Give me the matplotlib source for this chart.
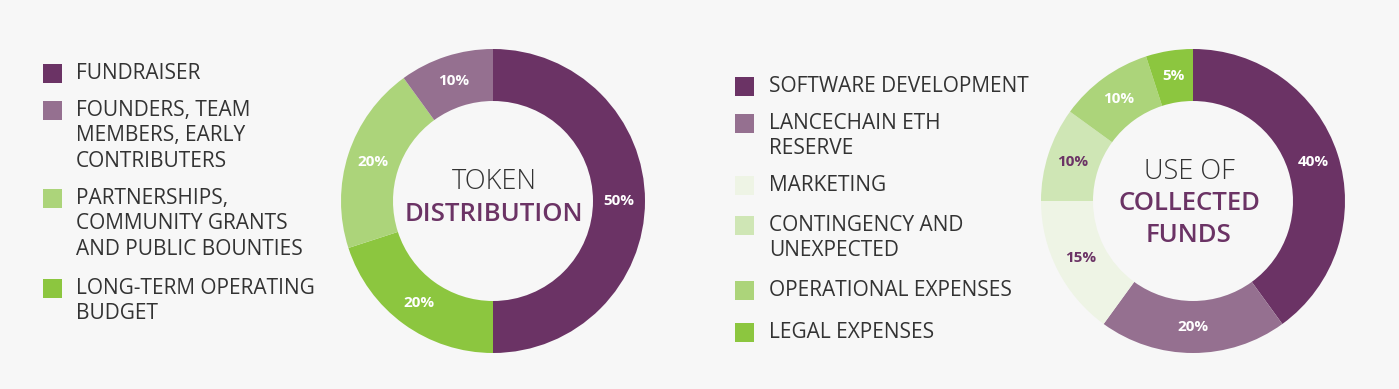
import matplotlib.pyplot as plt
from matplotlib.patches import Rectangle

# token distribution (clockwise from top)
token_labels = ['FUNDRAISER', 'LONG-TERM OPERATING\nBUDGET',
                'PARTNERSHIPS,\nCOMMUNITY GRANTS\nAND PUBLIC BOUNTIES',
                'FOUNDERS, TEAM\nMEMBERS, EARLY\nCONTRIBUTERS']
token_values = [50, 20, 20, 10]
token_colors = ['#6b3365', '#8cc63f', '#acd47a', '#957090']
token_legend_order = [0, 3, 2, 1]

# use of collected funds (clockwise from top)
funds_labels = ['SOFTWARE DEVELOPMENT', 'LANCECHAIN ETH\nRESERVE', 'MARKETING',
                'CONTINGENCY AND\nUNEXPECTED', 'OPERATIONAL EXPENSES', 'LEGAL EXPENSES']
funds_values = [40, 20, 15, 10, 10, 5]
funds_colors = ['#6b3365', '#957090', '#eef4e5', '#cfe6b5', '#acd47a', '#8cc63f']
funds_text_colors = ['white', 'white', '#6b3365', '#6b3365', 'white', 'white']

BG = '#f7f7f7'
FONT = ['Open Sans', 'DejaVu Sans']
W, H = 1399, 389

fig = plt.figure(figsize=(W / 100, H / 100), dpi=100, facecolor=BG)
ax = fig.add_axes([0, 0, 1, 1])
ax.set_facecolor(BG)


def Y(y):
    return H - y


def donut(cx, cy, values, colors, text_colors):
    wedges, texts, autotexts = ax.pie(
        values, colors=colors, startangle=90, counterclock=False,
        center=(cx, Y(cy)), radius=152, autopct=lambda p: f'{p:.0f}%',
        pctdistance=0.83, wedgeprops=dict(width=52, linewidth=0),
        textprops=dict(family=FONT, fontweight='bold', fontsize=11))
    for t, c in zip(autotexts, text_colors):
        t.set_color(c)


donut(493, 201, token_values, token_colors, ['white'] * 4)
donut(1193, 201, funds_values, funds_colors, funds_text_colors)

ax.set_xlim(0, W)
ax.set_ylim(0, H)
ax.set_aspect('equal')
ax.axis('off')

# center titles
ax.text(494, Y(182), 'TOKEN', ha='center', va='center', fontsize=19.5,
        family=FONT, fontweight='light', color='#333333')
ax.text(494, Y(214), 'DISTRIBUTION', ha='center', va='center', fontsize=18.5,
        family=FONT, fontweight='semibold', color='#6b3365')
ax.text(1189, Y(172), 'USE OF', ha='center', va='center', fontsize=19.5,
        family=FONT, fontweight='light', color='#333333')
ax.text(1189, Y(203), 'COLLECTED', ha='center', va='center', fontsize=18.5,
        family=FONT, fontweight='semibold', color='#6b3365')
ax.text(1189, Y(235), 'FUNDS', ha='center', va='center', fontsize=18.5,
        family=FONT, fontweight='semibold', color='#6b3365')


def legend(x_sq, x_txt, rows, labels, colors):
    for y, lab, col in zip(rows, labels, colors):
        ax.add_patch(Rectangle((x_sq, Y(y) - 9.5), 19, 19, color=col, lw=0))
        for i, line in enumerate(lab.split('\n')):
            ax.text(x_txt, Y(y + i * 25.5), line, ha='left', va='center',
                    fontsize=15, family=FONT, color='#333333')


legend(43, 76, [73, 110, 198, 288],
       [token_labels[i] for i in token_legend_order],
       [token_colors[i] for i in token_legend_order])
legend(735, 769, [86, 123, 185, 225, 290, 332], funds_labels, funds_colors)

fig.savefig('out.png', dpi=100, facecolor=BG)
